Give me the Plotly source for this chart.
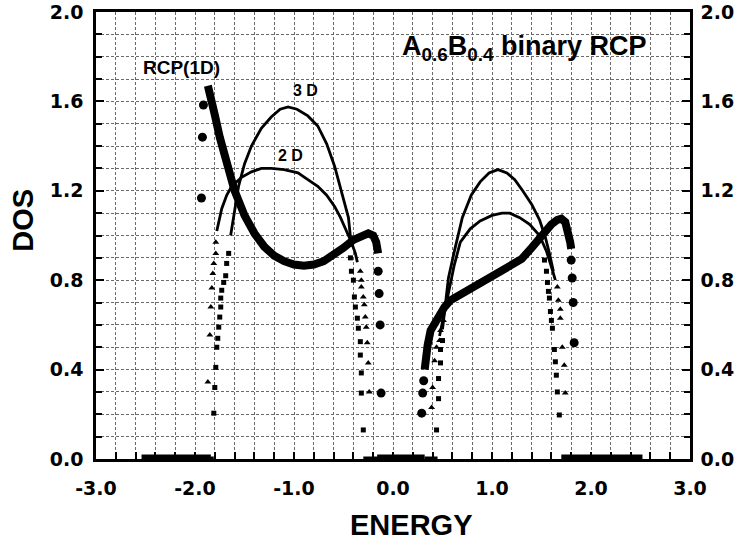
import plotly.graph_objects as go

# ---------------- data ----------------
# RCP(1D): continuous (dense) parts of the two bands
rcp_left_x = [-1.87, -1.85, -1.80, -1.75, -1.70, -1.65, -1.60, -1.50, -1.40, -1.30, -1.20, -1.10,
              -1.00, -0.90, -0.80, -0.70, -0.60, -0.50, -0.40, -0.30, -0.25, -0.20, -0.17, -0.15]
rcp_left_y = [1.67, 1.64, 1.54, 1.44, 1.35, 1.27, 1.20, 1.09, 1.01, 0.95, 0.91, 0.885,
              0.87, 0.865, 0.87, 0.885, 0.91, 0.945, 0.98, 1.005, 1.01, 1.00, 0.97, 0.92]
rcp_right_x = [0.32, 0.33, 0.35, 0.38, 0.42, 0.45, 0.52, 0.58, 0.70, 0.80, 0.90, 1.00, 1.10, 1.20,
               1.30, 1.40, 1.50, 1.60, 1.66, 1.70, 1.74, 1.77, 1.79, 1.80]
rcp_right_y = [0.40, 0.45, 0.51, 0.575, 0.61, 0.635, 0.68, 0.71, 0.74, 0.765, 0.79, 0.81, 0.835, 0.86,
               0.895, 0.945, 1.00, 1.05, 1.07, 1.075, 1.06, 1.02, 0.97, 0.94]
# RCP(1D): sparse points near band edges
rcp_dots_x = [-1.915, -1.925, -1.935, -0.15, -0.14, -0.13, -0.12, 0.31, 0.30, 0.29, 1.80, 1.81, 1.82, 1.83]
rcp_dots_y = [1.584, 1.44, 1.168, 0.84, 0.74, 0.60, 0.295, 0.35, 0.295, 0.205, 0.89, 0.81, 0.70, 0.52]
# RCP(1D): zero DOS in the gaps (segment ends)
gap_x = [-2.54, -1.84, None, -0.16, 0.32, None, 1.70, 2.52]
gap_y = [0.0, 0.0, None, 0.0, 0.0, None, 0.0, 0.0]
gap_thin_x = [-1.90, -1.81, None, -0.30, -0.15, None, 0.32, 0.45]
gap_thin_y = [0.0, 0.0, None, 0.0, 0.0, None, 0.0, 0.0]

# 3D lattice curves (dense parts)
d3_x = [-1.64, -1.60, -1.56, -1.50, -1.43, -1.33, -1.23, -1.14, -1.06, -0.97, -0.86, -0.76, -0.67,
        -0.59, -0.52, -0.45, -0.42, None,
        0.50, 0.53, 0.56, 0.62, 0.70, 0.79, 0.88, 0.97, 1.06, 1.15, 1.23, 1.31, 1.40, 1.48, 1.54,
        1.58, 1.62]
d3_y = [1.00, 1.12, 1.22, 1.32, 1.40, 1.48, 1.53, 1.565, 1.575, 1.565, 1.535, 1.49, 1.41,
        1.31, 1.20, 1.08, 0.95, None,
        0.58, 0.70, 0.81, 0.93, 1.08, 1.18, 1.24, 1.28, 1.295, 1.28, 1.25, 1.20, 1.14, 1.07, 0.99,
        0.92, 0.84]
# 2D lattice curves (dense parts)
d2_x = [-1.78, -1.73, -1.68, -1.63, -1.53, -1.43, -1.33, -1.23, -1.10, -0.96, -0.86, -0.76, -0.67,
        -0.59, -0.53, -0.49, -0.42, -0.38, -0.36, None,
        0.47, 0.52, 0.57, 0.62, 0.68, 0.78, 0.88, 1.00, 1.10, 1.18, 1.28, 1.38, 1.48, 1.55, 1.60, 1.64]
d2_y = [1.02, 1.12, 1.18, 1.22, 1.26, 1.285, 1.30, 1.30, 1.295, 1.28, 1.25, 1.22, 1.18,
        1.13, 1.08, 1.04, 0.97, 0.92, 0.88, None,
        0.55, 0.66, 0.76, 0.87, 0.97, 1.03, 1.065, 1.09, 1.10, 1.10, 1.08, 1.05, 1.00, 0.93, 0.86, 0.80]

# sparse band-edge points (squares)
sq_x = [-1.66, -1.68, -1.69, -1.71, -1.73, -1.74, -1.74, -1.75, -1.76, -1.77, -1.78, -1.79, -1.80, -1.81,
        -0.43, -0.42, -0.40, -0.39, -0.38, -0.36, -0.35, -0.33, -0.33, -0.32, -0.32, -0.30,
        0.44, 0.46, 0.46, 0.48, 0.48, 0.50,
        1.53, 1.55, 1.56, 1.57, 1.58, 1.59, 1.60, 1.61, 1.63, 1.64, 1.65, 1.66, 1.68]
sq_y = [0.92, 0.875, 0.82, 0.79, 0.755, 0.72, 0.68, 0.635, 0.59, 0.54, 0.50, 0.41, 0.32, 0.205,
        0.90, 0.84, 0.80, 0.725, 0.68, 0.63, 0.585, 0.525, 0.465, 0.385, 0.295, 0.13,
        0.13, 0.27, 0.36, 0.43, 0.49, 0.53,
        0.89, 0.84, 0.79, 0.75, 0.72, 0.66, 0.62, 0.585, 0.49, 0.435, 0.375, 0.30, 0.197]
# sparse band-edge points (triangles)
tri_x = [-1.79, -1.79, -1.81, -1.82, -1.83, -1.84, -1.85, -1.87,
         -0.33, -0.32, -0.32, -0.30, -0.29, -0.28, -0.27, -0.26, -0.25, -0.24,
         0.39, 0.40, 0.42, 0.44, 0.47, 0.48, 0.51,
         1.66, 1.67, 1.69, 1.69, 1.71, 1.73, 1.74]
tri_y = [0.97, 0.92, 0.875, 0.83, 0.765, 0.68, 0.555, 0.345,
         0.84, 0.80, 0.77, 0.725, 0.69, 0.635, 0.59, 0.52, 0.43, 0.30,
         0.23, 0.32, 0.44, 0.50, 0.53, 0.575, 0.62,
         0.77, 0.71, 0.67, 0.63, 0.50, 0.42, 0.295]

x_tickvals = [-3, -2, -1, 0, 1, 2, 3]
x_ticktext = ["-3.0", "-2.0", "-1.0", "0.0", "1.0", "2.0", "3.0"]
y_tickvals = [0, 0.4, 0.8, 1.2, 1.6, 2.0]
y_ticktext = ["0.0", "0.4", "0.8", "1.2", "1.6", "2.0"]

# ---------------- figure ----------------
BLACK = "#000000"
GRID = "#6a6a6a"
fig = go.Figure()

fig.add_trace(go.Scatter(x=gap_thin_x, y=gap_thin_y, mode="lines",
                         line=dict(color=BLACK, width=5), showlegend=False))
fig.add_trace(go.Scatter(x=gap_x, y=gap_y, mode="lines",
                         line=dict(color=BLACK, width=9), showlegend=False))
fig.add_trace(go.Scatter(x=d3_x, y=d3_y, mode="lines",
                         line=dict(color=BLACK, width=2.8), showlegend=False))
fig.add_trace(go.Scatter(x=d2_x, y=d2_y, mode="lines",
                         line=dict(color=BLACK, width=2.8), showlegend=False))
fig.add_trace(go.Scatter(x=sq_x, y=sq_y, mode="markers",
                         marker=dict(symbol="square", size=5, color=BLACK), showlegend=False))
fig.add_trace(go.Scatter(x=tri_x, y=tri_y, mode="markers",
                         marker=dict(symbol="triangle-up", size=6, color=BLACK), showlegend=False))
fig.add_trace(go.Scatter(x=rcp_left_x, y=rcp_left_y, mode="lines",
                         line=dict(color=BLACK, width=8), showlegend=False))
fig.add_trace(go.Scatter(x=rcp_right_x, y=rcp_right_y, mode="lines",
                         line=dict(color=BLACK, width=8), showlegend=False))
fig.add_trace(go.Scatter(x=rcp_dots_x, y=rcp_dots_y, mode="markers",
                         marker=dict(symbol="circle", size=9, color=BLACK), showlegend=False))
# dummy trace so the right-hand axis is drawn
fig.add_trace(go.Scatter(x=[0], y=[0], yaxis="y2", mode="markers",
                         marker=dict(opacity=0), showlegend=False, hoverinfo="skip"))

tick_font = dict(family="DejaVu Sans", size=19, color=BLACK, weight="bold")
grid_common = dict(showgrid=True, gridcolor=GRID, gridwidth=1, griddash="3px,2px")

fig.update_layout(
    width=735, height=543,
    margin=dict(l=96, r=45, t=12, b=84, autoexpand=False),
    paper_bgcolor="white", plot_bgcolor="white",
    xaxis=dict(range=[-3, 3], tickvals=x_tickvals, ticktext=x_ticktext, automargin=False,
               ticks="inside", ticklen=7, tickwidth=2, tickcolor=BLACK,
               minor=dict(dtick=0.2, ticks="inside", ticklen=7, tickwidth=1.5, tickcolor=BLACK,
                          showgrid=True, gridcolor=GRID, gridwidth=1, griddash="3px,2px"),
               showline=True, linecolor=BLACK, linewidth=2.5, mirror=True,
               tickfont=tick_font, ticklabelstandoff=10, zeroline=False,
               ticklabeloverflow="allow", **grid_common),
    yaxis=dict(range=[0, 2], tickvals=y_tickvals, ticktext=y_ticktext, automargin=False,
               ticks="inside", ticklen=8, tickwidth=2, tickcolor=BLACK,
               minor=dict(dtick=0.1, ticks="inside", ticklen=6, tickwidth=1.5, tickcolor=BLACK,
                          showgrid=True, gridcolor=GRID, gridwidth=1, griddash="3px,2px"),
               showline=True, linecolor=BLACK, linewidth=2.5, mirror=True,
               tickfont=tick_font, ticklabelstandoff=6, zeroline=False,
               ticklabeloverflow="allow", **grid_common),
    yaxis2=dict(range=[0, 2], overlaying="y", side="right", tickvals=y_tickvals, ticktext=y_ticktext,
                automargin=False,
                ticks="inside", ticklen=8, tickwidth=2, tickcolor=BLACK,
                minor=dict(dtick=0.1, ticks="inside", ticklen=6, tickwidth=1.5, tickcolor=BLACK),
                showline=True, linecolor=BLACK, linewidth=2.5, showgrid=False, zeroline=False,
                tickfont=tick_font, ticklabelstandoff=4, ticklabeloverflow="allow"),
    showlegend=False,
)

label_font = dict(family="Liberation Sans", color=BLACK, weight="bold")
fig.add_annotation(x=-2.14, y=1.75, xref="x", yref="y", text="RCP(1D)", showarrow=False,
                   font=dict(size=19, **label_font))
fig.add_annotation(x=-0.88, y=1.65, xref="x", yref="y", text="3 D", showarrow=False,
                   font=dict(size=16, **label_font))
fig.add_annotation(x=-1.04, y=1.356, xref="x", yref="y", text="2 D", showarrow=False,
                   font=dict(size=16, **label_font))
fig.add_annotation(x=0.07, y=1.84, xref="x", yref="y", xanchor="left", yanchor="middle",
                   text="A<sub>0.6</sub>B<sub>0.4</sub> binary RCP", showarrow=False,
                   font=dict(size=27, **label_font))
fig.add_annotation(x=0.53, y=-0.148, xref="paper", yref="paper", xanchor="center", yanchor="middle",
                   text="ENERGY", showarrow=False, font=dict(size=29, **label_font))
fig.add_annotation(x=-0.123, y=0.535, xref="paper", yref="paper", xanchor="center", yanchor="middle",
                   text="DOS", showarrow=False, textangle=-90, font=dict(size=29, **label_font))

# remove the default 8px page margin so the figure sits at the window's corner; hide the modebar
fig.write_html("out.html", post_script="document.body.style.margin='0px';",
               config={"displayModeBar": False})
